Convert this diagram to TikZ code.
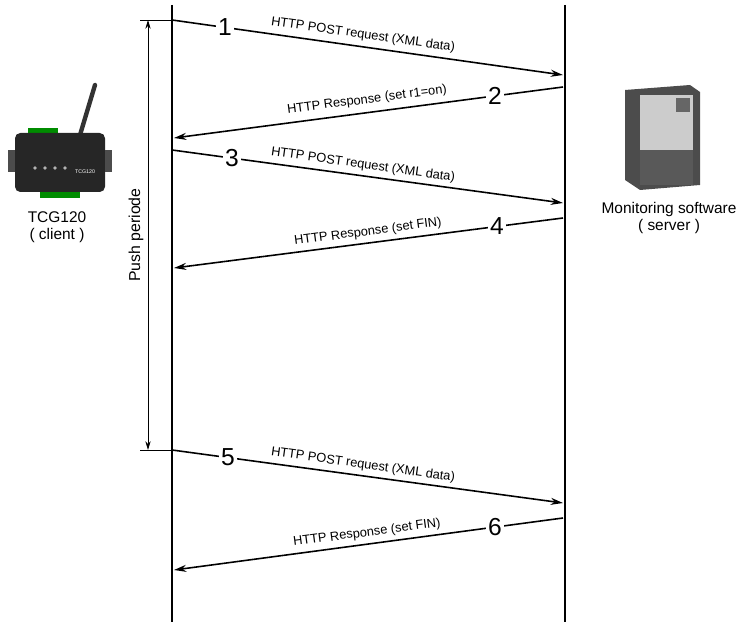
\documentclass[tikz,border=0pt]{standalone}
\usepackage{fontspec}
\setmainfont{Liberation Sans}
\usetikzlibrary{arrows.meta}
\begin{document}
\begin{tikzpicture}[x=0.02cm,y=-0.02cm,
  life/.style={line width=1.6pt},
  msg/.style={line width=0.9pt,-{Stealth[length=7pt,width=4pt]}},
  num/.style={fill=white,inner sep=1pt,font=\fontsize{14}{14}\selectfont},
  lab/.style={font=\fontsize{7.3}{8}\selectfont},
  captext/.style={font=\fontsize{8.8}{10}\selectfont,align=center}]
\useasboundingbox (0,0) rectangle (750,624);
% lifelines
\coordinate (lt) at (172,5); \coordinate (lb) at (172,622);
\coordinate (rt) at (565,5); \coordinate (rb) at (565,622);
\draw[life] (lt) -- (lb);
\draw[life] (rt) -- (rb);
% push periode
\coordinate (p1) at (140,20); \coordinate (p2) at (140,450);
\coordinate (q1) at (172,20); \coordinate (q2) at (172,450);
\draw[line width=0.5pt] (p1) -- (q1);
\draw[line width=0.5pt] (p2) -- (q2);
\coordinate (a1) at (148,20); \coordinate (a2) at (148,450);
\draw[line width=0.5pt,{Stealth[length=5pt,width=3pt]}-{Stealth[length=5pt,width=3pt]}] (a1) -- (a2);
\node[rotate=90,font=\fontsize{9}{10}\selectfont] (pp) at (136,235) {Push periode};
% messages
\foreach \i/\xa/\ya/\xb/\yb/\nx/\txt/\tx/\ty/\ang in {
 1/172/20/563/75/225/{HTTP POST request (XML data)}/363/35/-8,
 2/563/87/174/138/495/{HTTP Response (set r1=on)}/367/100/7.5,
 3/172/150/563/203/232/{HTTP POST request (XML data)}/363/165/-8,
 4/563/218/174/268/497/{HTTP Response (set FIN)}/368/232/7.5,
 5/172/450/563/503/228/{HTTP POST request (XML data)}/363/465/-8,
 6/563/518/174/570/495/{HTTP Response (set FIN)}/367/533/7.5}{
  \coordinate (s\i) at (\xa,\ya); \coordinate (e\i) at (\xb,\yb);
  \draw[msg] (s\i) -- (e\i);
  \path (s\i) -- (e\i) node[num,pos={(\nx-\xa)/(\xb-\xa)}] (n\i) {\i};
  \node[lab,rotate=\ang] (t\i) at (\tx,\ty) {\txt};
}
% client device
\draw[line width=2.5pt,black!80,line cap=round] (80,135) -- (95,85);
\fill[green!55!black] (28,128) rectangle (58,136);
\fill[green!55!black] (40,190) rectangle (80,198);
\fill[black!85,rounded corners=3pt] (15,133) rectangle (105,192);
\fill[black!70] (8,150) rectangle (15,172);
\fill[black!70] (105,150) rectangle (112,172);
\node[white,font=\fontsize{3}{3}\selectfont] (dev) at (85,172) {TCG120};
\foreach \x in {35,45,55,65}{\fill[white!70!black] (\x,168) circle (1pt);}
\node[captext] (cl) at (57,227) {TCG120\\( client )};
% server tower
\fill[gray!60!black] (625,90) -- (690,85) -- (700,92) -- (700,185) -- (640,190) -- (625,180) -- cycle;
\fill[gray!40] (640,95) rectangle (693,150);
\fill[gray!70!black] (640,150) rectangle (693,185);
\fill[black!60] (676,98) rectangle (690,112);
\node[captext] (sv) at (669,218) {Monitoring software\\( server )};
\end{tikzpicture}
\end{document}
